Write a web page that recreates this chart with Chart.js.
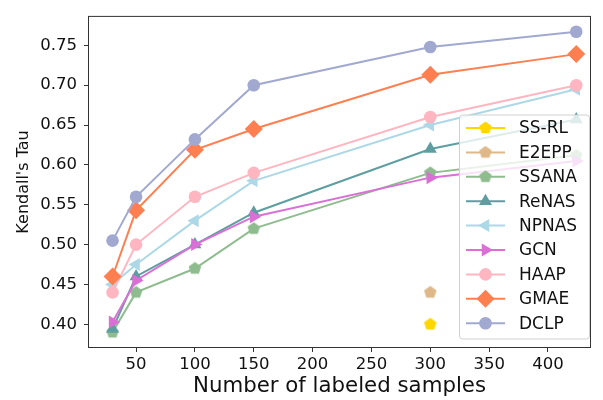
<!DOCTYPE html>
<html lang="en">
<head>
<meta charset="UTF-8">
<title>Kendall's Tau vs number of labeled samples</title>
<script src="https://cdn.jsdelivr.net/npm/chart.js"></script>
<style>
  html, body { margin: 0; padding: 0; background: #fff; }
  #wrap { width: 603px; height: 400px; }
</style>
</head>
<body>
<div id="wrap"><canvas id="chart" width="603" height="400"></canvas></div>
<script>
// x positions (number of labeled samples)
const samples = [30, 50, 100, 150, 300, 424];
const singleSample = [300];

// Kendall's Tau per method
const ssrl  = [0.40];
const e2epp = [0.44];
const ssana = [0.39, 0.44, 0.47, 0.52, 0.59, 0.612];
const renas = [0.394, 0.46, 0.50, 0.54, 0.62, 0.657];
const npnas = [0.45, 0.475, 0.53, 0.58, 0.65, 0.695];
const gcn   = [0.403, 0.455, 0.50, 0.535, 0.584, 0.605];
const haap  = [0.44, 0.50, 0.56, 0.59, 0.66, 0.70];
const gmae  = [0.46, 0.543, 0.619, 0.645, 0.713, 0.739];
const dclp  = [0.505, 0.56, 0.632, 0.70, 0.748, 0.767];

const xTicks = [50, 100, 150, 200, 250, 300, 350, 400];
const yTicks = [0.40, 0.45, 0.50, 0.55, 0.60, 0.65, 0.70, 0.75];

const FONT = 'DejaVu Sans';

// pentagon marker (Chart.js has no built-in pentagon)
function pentagon(color) {
    const c = document.createElement('canvas');
    c.width = 16; c.height = 16;
    const g = c.getContext('2d');
    g.fillStyle = color;
    g.beginPath();
    for (let i = 0; i < 5; i++) {
        const a = -Math.PI / 2 + i * 2 * Math.PI / 5;
        const px = 8 + 6.6 * Math.cos(a), py = 8 + 6.6 * Math.sin(a);
        if (i) g.lineTo(px, py); else g.moveTo(px, py);
    }
    g.closePath();
    g.fill();
    return c;
}

function series(label, xs, ys, color, style, radius, rotation) {
    return {
        label: label,
        data: xs.map((x, i) => ({ x: x, y: ys[i] })),
        borderColor: color,
        backgroundColor: color,
        borderWidth: 2,
        pointStyle: style,
        pointRadius: radius,
        pointHoverRadius: radius,
        pointRotation: rotation || 0,
        pointBorderWidth: 0,
        tension: 0,
        fill: false
    };
}

const datasets = [
    series('SS-RL', singleSample, ssrl, '#ffd700', pentagon('#ffd700'), 7),
    series('E2EPP', singleSample, e2epp, '#deb887', pentagon('#deb887'), 7),
    series('SSANA', samples, ssana, '#8fbc8f', pentagon('#8fbc8f'), 7),
    series('ReNAS', samples, renas, '#5f9ea0', 'triangle', 7.5),
    series('NPNAS', samples, npnas, '#add8e6', 'triangle', 7.5, -90),
    series('GCN', samples, gcn, '#da70d6', 'triangle', 7.5, 90),
    series('HAAP', samples, haap, '#ffb6c1', 'circle', 6.3),
    series('GMAE', samples, gmae, '#ff7f50', 'rectRot', 9),
    series('DCLP', samples, dclp, '#a1a9d0', 'circle', 6.3)
];
// later methods are drawn on top, as in the original
datasets.forEach((d, i) => { d.order = datasets.length - i; });

// frame + legend drawn over the lines
const frameAndLegend = {
    id: 'frameAndLegend',
    afterDatasetsDraw(chart) {
        const ctx = chart.ctx, a = chart.chartArea;
        ctx.save();
        ctx.strokeStyle = '#333';
        ctx.lineWidth = 1;
        ctx.strokeRect(a.left - 0.5, a.top - 0.5, a.right - a.left + 1, a.bottom - a.top + 1);

        const w = 130, h = 224;
        const x0 = a.right - 1 - w, y0 = a.bottom - 8.5 - h;
        ctx.beginPath();
        ctx.roundRect(x0 + 0.5, y0 + 0.5, w, h, 3);
        ctx.fillStyle = 'rgba(255,255,255,0.8)';
        ctx.fill();
        ctx.strokeStyle = '#d0d0d0';
        ctx.stroke();

        ctx.font = '17px "' + FONT + '"';
        ctx.textBaseline = 'middle';
        ctx.textAlign = 'left';
        chart.data.datasets.forEach((d, i) => {
            const cy = y0 + 13.5 + i * 24.4;
            ctx.strokeStyle = d.borderColor;
            ctx.lineWidth = 2;
            ctx.beginPath();
            ctx.moveTo(x0 + 7, cy);
            ctx.lineTo(x0 + 46, cy);
            ctx.stroke();
            ctx.fillStyle = d.backgroundColor;
            Chart.helpers.drawPoint(ctx, {
                pointStyle: d.pointStyle,
                radius: d.pointRadius,
                rotation: d.pointRotation,
                borderWidth: 0
            }, x0 + 26.5, cy);
            ctx.fillStyle = '#111';
            ctx.fillText(d.label, x0 + 60, cy + 1);
        });
        ctx.restore();
    }
};

new Chart(document.getElementById('chart').getContext('2d'), {
    type: 'line',
    data: { datasets: datasets },
    options: {
        responsive: false,
        animation: false,
        layout: { padding: { top: 6, right: 13, left: 0, bottom: 0 } },
        plugins: { legend: { display: false }, tooltip: { enabled: false } },
        scales: {
            x: {
                type: 'linear',
                min: 10,
                max: 435.7,
                afterBuildTicks: s => { s.ticks = xTicks.map(v => ({ value: v })); },
                afterFit: s => { s.height = 53; },
                border: { display: false },
                grid: { drawOnChartArea: false, drawTicks: true, tickLength: 5, color: '#333' },
                ticks: { color: '#111', padding: 3, maxRotation: 0, font: { family: FONT, size: 16.5 } },
                title: { display: true, text: 'Number of labeled samples', color: '#111',
                         padding: { bottom: 1 }, font: { family: FONT, size: 21.3 } }
            },
            y: {
                min: 0.3715,
                max: 0.7857,
                afterBuildTicks: s => { s.ticks = yTicks.map(v => ({ value: v })); },
                afterFit: s => { s.width = 89; },
                border: { display: false },
                grid: { drawOnChartArea: false, drawTicks: true, tickLength: 5, color: '#333' },
                ticks: { color: '#111', padding: 7, font: { family: FONT, size: 16.5 },
                         callback: v => v.toFixed(2) },
                title: { display: true, text: "Kendall's Tau", color: '#111',
                         padding: { top: 14 }, font: { family: FONT, size: 16 } }
            }
        }
    },
    plugins: [frameAndLegend]
});
</script>
</body>
</html>
